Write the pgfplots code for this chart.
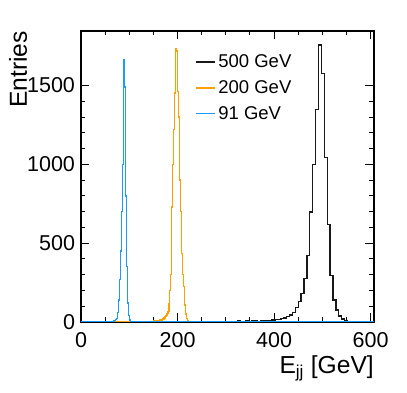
\documentclass[border=0pt]{standalone}
\usepackage{fontspec}
\setmainfont{Liberation Sans}
\usepackage{pgfplots}
\pgfplotsset{compat=1.18}
\definecolor{hblue}{RGB}{25,155,255}
\definecolor{horange}{RGB}{255,160,0}
\definecolor{hblack}{RGB}{25,25,25}
\begin{document}
\begin{tikzpicture}
\begin{axis}[
 scale only axis, width=293pt, height=291pt,
 xmin=0, xmax=607, ymin=0, ymax=1846,
 xtick={0,200,400,600}, ytick={0,500,1000,1500},
 minor x tick num=3, minor y tick num=4,
 major tick length=8.5pt, minor tick length=4.5pt,
 tick align=inside, tick pos=both,
 tick style={black, line width=0.9pt},
 axis line style={line width=1.1pt},
 /pgf/number format/assume math mode=true,
 /pgf/number format/1000 sep={},
 ticklabel style={font=\fontsize{21.5}{25}\selectfont},
 xticklabel style={yshift=-7pt},
 yticklabel style={xshift=-2.5pt},
 xlabel={E\textsubscript{jj} [GeV]},
 ylabel={Entries},
 label style={font=\fontsize{24.6}{29}\selectfont},
 xlabel style={at={(rel axis cs:1,0)}, anchor=base east, yshift=-52pt, inner sep=0pt},
 ylabel style={at={([xshift=-54pt]rel axis cs:0,1)}, anchor=base east, inner sep=0pt},
 legend style={draw=none, fill=none, at={(rel axis cs:0.39,0.927)}, anchor=north west,
   font=\fontsize{18.5}{22}\selectfont, row sep=7.5pt, inner sep=0pt},
 legend cell align=left,
 legend image code/.code={\draw[#1, line width=1.9pt] (0pt,0pt) -- (19pt,0pt);},
 every axis plot/.append style={line width=1.35pt},
]
\addplot[const plot, hblack] coordinates {
(0,0) (228,2) (234,3) (240,2) (246,4) (252,3) (258,2) (264,4) (270,3) (276,5) (282,3) (288,4) (294,5) (300,4) (306,3) (312,5) (318,4) (324,6) (330,5) (336,4) (342,6) (348,5) (354,7) (360,6) (366,5) (372,8) (378,7) (384,9) (390,10) (396,12) (402,14) (408,17) (414,21) (420,26) (426,34) (432,44) (438,61) (444,91) (450,129) (456,182) (462,277) (468,423) (474,698) (480,1001) (486,1346) (492,1758) (498,1578) (504,1043) (510,618) (516,293) (522,140) (528,77) (534,37) (540,19) (546,8) (552,5) (558,3) (564,2) (570,0) (607,0)
};
\addlegendentry{500 GeV}
\addplot[const plot, horange] coordinates {
(0,0) (118,3) (136,4) (150,6) (158,8) (164,12) (168,15) (170,20) (172,25) (174,34) (176,40) (178,55) (180,66) (182,118) (184,200) (186,300) (188,730) (190,1000) (192,1220) (194,1452) (196,1737) (198,1720) (200,1462) (202,1300) (204,901) (206,700) (208,436) (210,300) (212,224) (214,108) (216,50) (218,23) (220,8) (222,3) (226,0) (607,0)
};
\addlegendentry{200 GeV}
\addplot[const plot, hblue] coordinates {
(0,0) (56,2) (62,4) (66,5) (68,7) (70,9) (72,14) (74,22) (76,60) (78,140) (80,270) (82,450) (84,700) (86,1000) (88,1667) (90,1490) (92,800) (94,350) (96,120) (98,40) (100,12) (102,4) (104,0) (607,0)
};
\addlegendentry{91 GeV}
\end{axis}
\path ([xshift=-81pt,yshift=-71pt]current axis.south west) rectangle ([xshift=33pt,yshift=31pt]current axis.north east);
\end{tikzpicture}
\end{document}
